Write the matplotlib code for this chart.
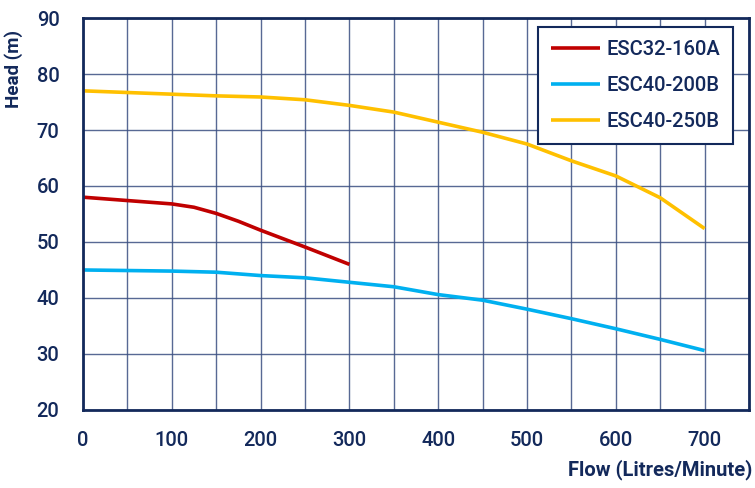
import matplotlib.pyplot as plt

# Pump curves - head vs flow
flow_160a = [0, 50, 100, 125, 150, 175, 200, 250, 300]
head_160a = [58.0, 57.4, 56.8, 56.2, 55.1, 53.7, 52.1, 49.1, 46.0]

flow_200b = [0, 50, 100, 150, 200, 250, 300, 350, 400, 450, 500, 550, 600, 650, 700]
head_200b = [45.0, 44.9, 44.8, 44.6, 44.0, 43.6, 42.8, 42.0, 40.6, 39.6, 38.0, 36.3, 34.5, 32.6, 30.6]

flow_250b = [0, 50, 100, 150, 200, 250, 300, 350, 400, 450, 500, 550, 600, 650, 700]
head_250b = [77.0, 76.7, 76.4, 76.1, 75.9, 75.4, 74.4, 73.2, 71.4, 69.6, 67.5, 64.5, 61.8, 57.9, 52.4]

series_names = ['ESC32-160A', 'ESC40-200B', 'ESC40-250B']
series_colors = ['#c00000', '#00b0f0', '#ffc000']

x_ticks = [0, 100, 200, 300, 400, 500, 600, 700]
y_ticks = [20, 30, 40, 50, 60, 70, 80, 90]

NAVY = '#13295b'
plt.rcParams['font.family'] = ['Roboto', 'DejaVu Sans']

fig = plt.figure(figsize=(7.55, 4.88), dpi=100)
ax = fig.add_axes([0.110, 0.160, 0.882, 0.803])

data = [(flow_160a, head_160a), (flow_200b, head_200b), (flow_250b, head_250b)]
for (fx, hy), name, col in zip(data, series_names, series_colors):
    ax.plot(fx, hy, color=col, linewidth=2.6, label=name, solid_capstyle='butt')

ax.set_xlim(0, 750)
ax.set_ylim(20, 90)
ax.set_xticks(x_ticks)
ax.set_yticks(y_ticks)
ax.set_xticks(range(0, 751, 50), minor=True)
ax.grid(True, which='both', axis='x', color='#3b4f82', linewidth=1.0, alpha=0.85)
ax.grid(True, which='major', axis='y', color='#3b4f82', linewidth=1.0, alpha=0.85)
ax.set_axisbelow(True)

for s in ax.spines.values():
    s.set_color(NAVY)
    s.set_linewidth(2)

ax.tick_params(which='both', length=0, colors=NAVY, labelsize=14.5)
ax.tick_params(axis='x', pad=15)
ax.tick_params(axis='y', pad=17)
for lbl in ax.get_xticklabels() + ax.get_yticklabels():
    lbl.set_fontweight('medium')

ax.set_ylabel('Head (m)', color=NAVY, fontsize=13.5, fontweight='bold')
ax.yaxis.set_label_coords(-0.09, 0.87)
fig.text(0.996, 0.038, 'Flow (Litres/Minute)', color=NAVY, fontsize=14.5,
         fontweight='bold', ha='right', va='center')

leg = ax.legend(loc='upper right', bbox_to_anchor=(0.976, 0.977), fontsize=14.5,
                frameon=True, fancybox=False, handlelength=2.45, handletextpad=0.3,
                labelspacing=0.85, borderpad=0.65, borderaxespad=0)
leg.get_frame().set_edgecolor(NAVY)
leg.get_frame().set_linewidth(1.5)
leg.get_frame().set_alpha(1)
for t in leg.get_texts():
    t.set_color(NAVY)
    t.set_fontweight('medium')

fig.savefig('out.png', dpi=100)
